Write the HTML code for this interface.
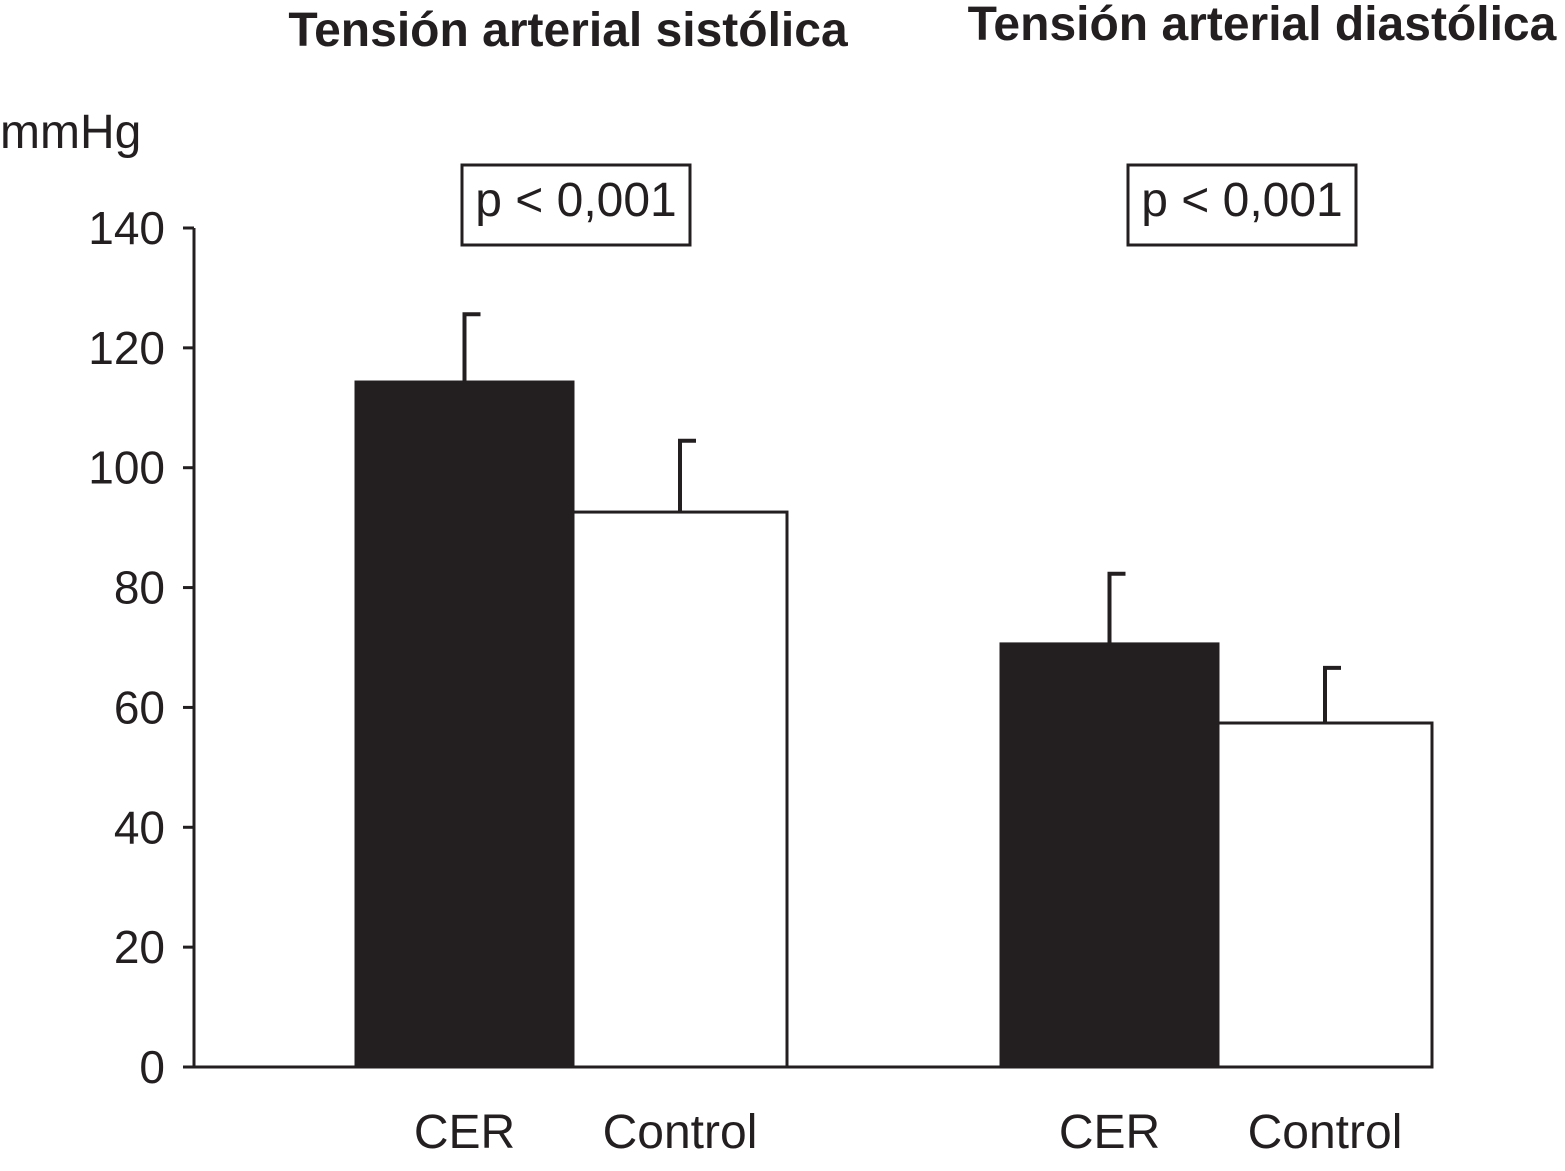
<!DOCTYPE html>
<html><head><meta charset="utf-8"><style>
body{margin:0;background:#fff}
svg{display:block;font-family:"Liberation Sans",Arial,sans-serif}
</style></head><body>
<svg id="chart" width="1565" height="1171" viewBox="0 0 1565 1171">
<g id="g"></g>
</svg>
<script>
const categories=["CER","Control","CER","Control"];
const means=[114.3,92.6,70.6,57.4];
const errors=[11.3,11.9,11.7,9.2];
const ticks=[0,20,40,60,80,100,120,140];
const titles=["Tensión arterial sistólica","Tensión arterial diastólica"];
const pvals=["p < 0,001","p < 0,001"];

const NS="http://www.w3.org/2000/svg";
const g=document.getElementById('g');
const y0=1067,ppu=(1067-228)/140;
const yS=v=>y0-v*ppu;
const barL=[356,573,1001,1218],barW=[217,214,217,214];
function el(t,a,txt){const e=document.createElementNS(NS,t);for(const k in a)e.setAttribute(k,a[k]);if(txt!==undefined)e.textContent=txt;g.appendChild(e);return e;}

let ax=el('line',{x1:194,y1:yS(140),x2:194,y2:y0+1,stroke:'#231f20','stroke-width':3});


ticks.forEach(t=>{
 const l=el('line',{x1:183,x2:194,y1:yS(t),y2:yS(t),stroke:'#231f20','stroke-width':3});
 
 
 const tx=el('text',{x:165,y:yS(t)+16,'text-anchor':'end','font-size':46,fill:'#231f20'},String(t));
 
 
});
let u=el('text',{x:0,y:148,'font-size':48,fill:'#231f20'},'mmHg');



means.forEach((m,i)=>{
 const dark=i%2===0;
 const cx=barL[i]+barW[i]/2;
 const b=el('rect',{x:barL[i],y:yS(m),width:barW[i],height:y0-yS(m),fill:dark?'#231f20':'#fff',stroke:'#231f20','stroke-width':3});
 
 
 const e1=el('line',{x1:cx,x2:cx,y1:yS(m),y2:yS(m+errors[i]),stroke:'#231f20','stroke-width':4});
 
 
 const e2=el('line',{x1:cx-2,x2:cx+16,y1:yS(m+errors[i]),y2:yS(m+errors[i]),stroke:'#231f20','stroke-width':4});
 
 
 const lb=el('text',{x:cx,y:1148,'text-anchor':'middle','font-size':48,fill:'#231f20'},categories[i]);
 
 
});
let base=el('line',{x1:183,x2:1433,y1:y0,y2:y0,stroke:'#231f20','stroke-width':3});



const titleX=[568,1262],titleY=[46,40],boxX=[462,1128];
titles.forEach((t,i)=>{
 const tt=el('text',{x:titleX[i],y:titleY[i],'text-anchor':'middle','font-size':48,'font-weight':'bold',fill:'#231f20'},t);
 
 
 const r=el('rect',{x:boxX[i],y:165,width:228,height:80,fill:'#fff',stroke:'#231f20','stroke-width':3});
 
 
 const p=el('text',{x:boxX[i]+114,y:216,'text-anchor':'middle','font-size':48,fill:'#231f20'},pvals[i]);
 
 
});
</script>
</body></html>
